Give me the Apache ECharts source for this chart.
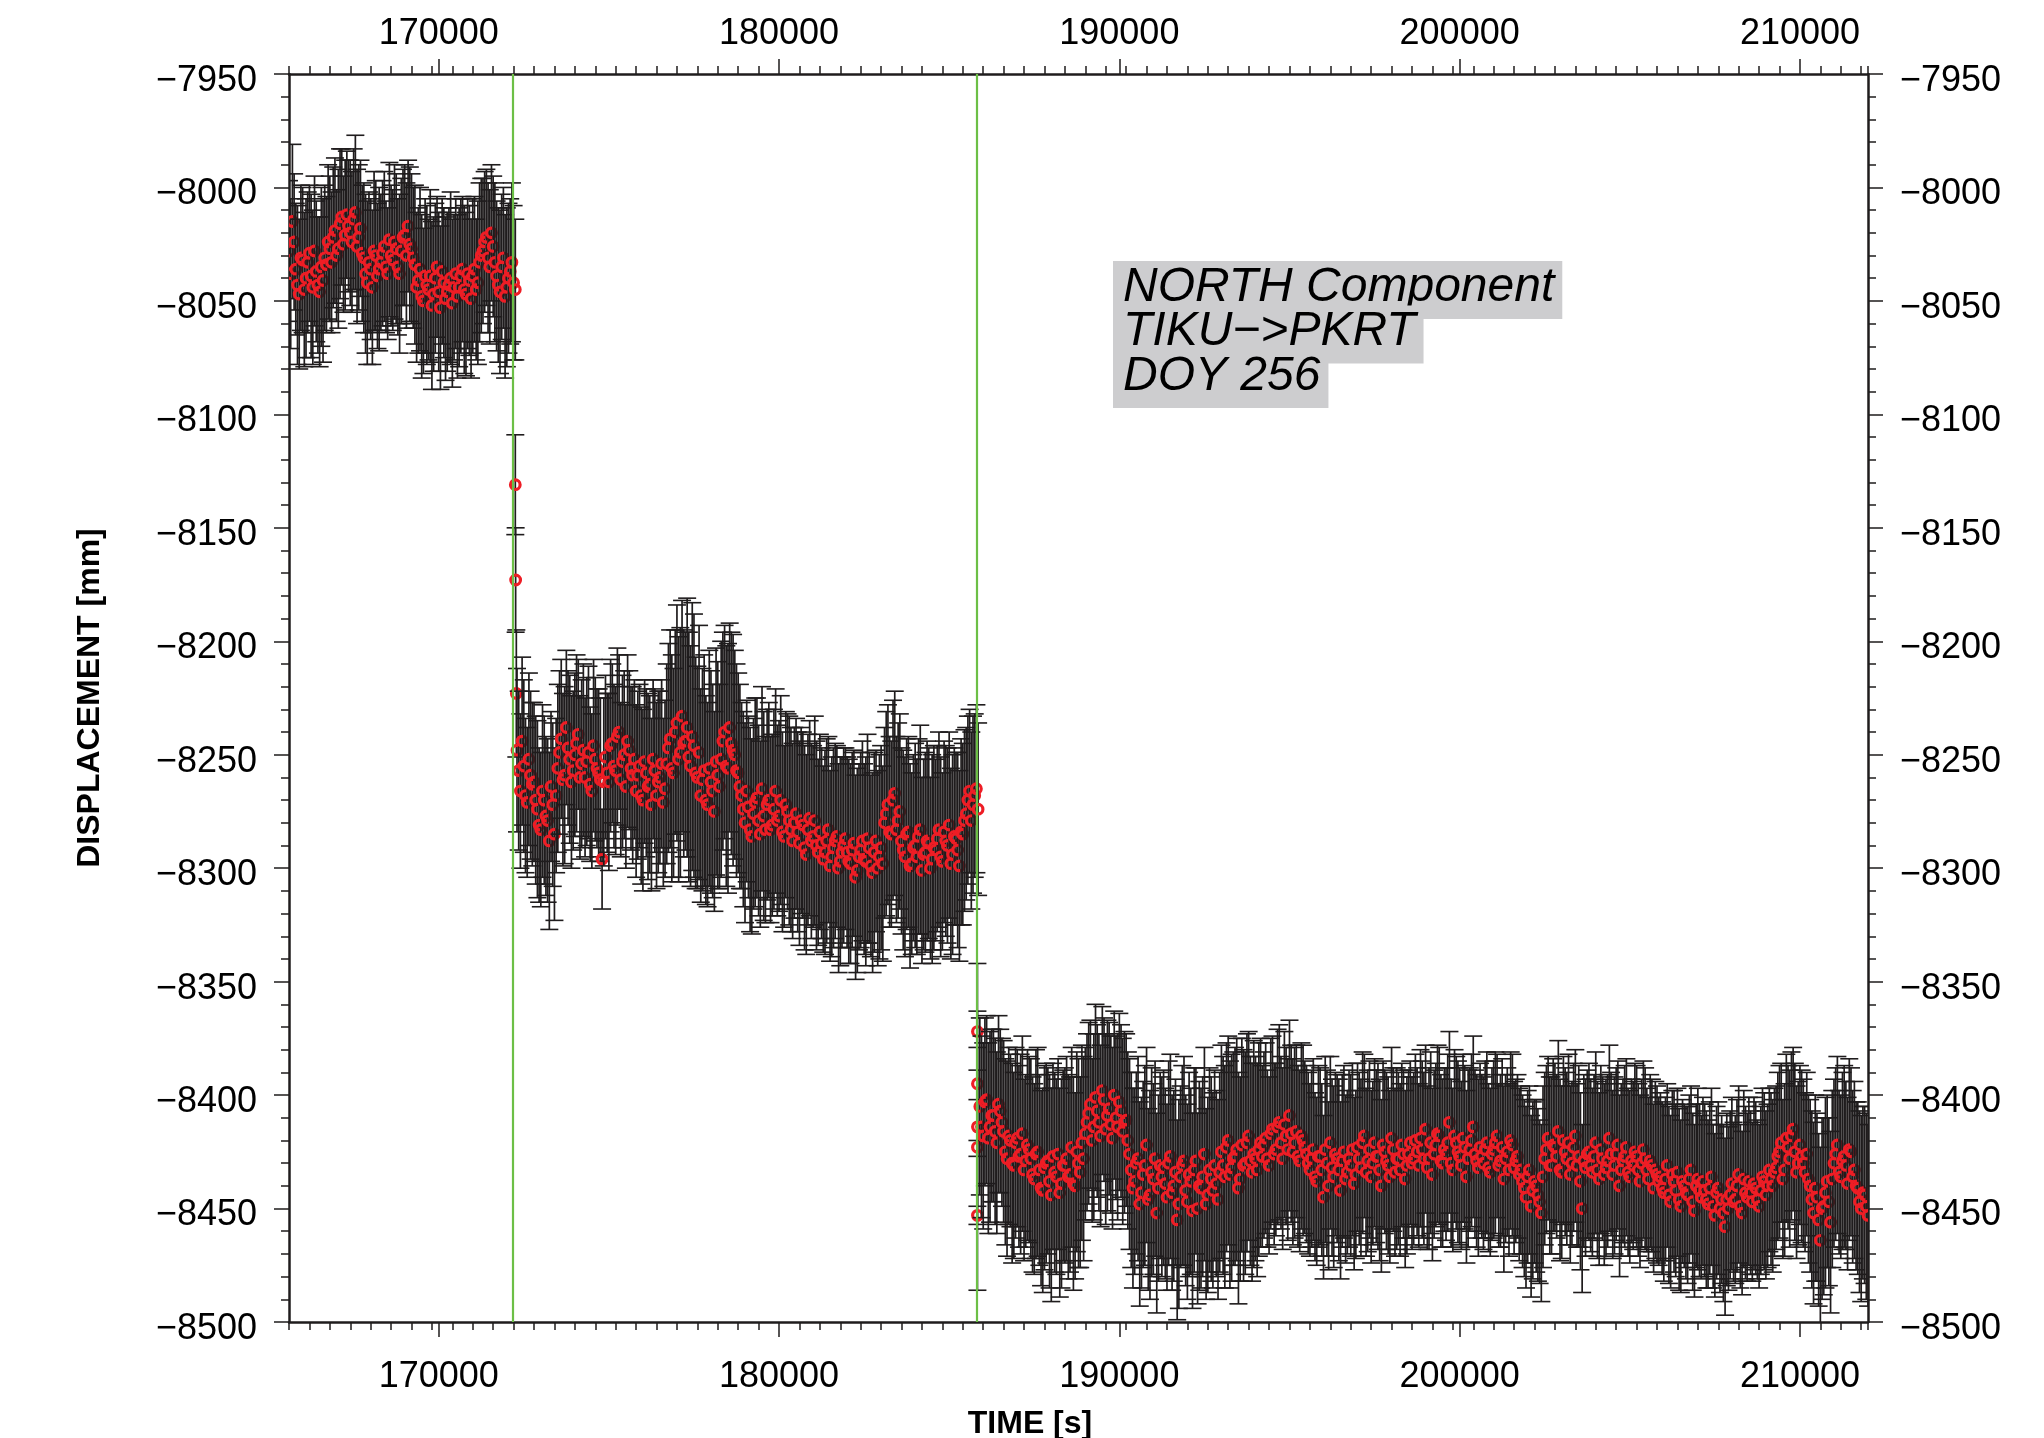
<!DOCTYPE html>
<html>
<head>
<meta charset="utf-8">
<title>NORTH Component TIKU->PKRT DOY 256</title>
<script src="https://cdn.jsdelivr.net/npm/echarts@6/dist/echarts.min.js"></script>
<style>
  html, body { margin: 0; padding: 0; background: #fff; }
  #chart { width: 2044px; height: 1438px; }
</style>
</head>
<body>
<div id="chart"></div>
<script>
// time axis tick labels and the two event lines (s)
const xTickValues = [170000, 180000, 190000, 200000, 210000];
const eventTimes = [172180, 185810];

// 100 s sampling per run; the "B" runs sit 50 s after the "A" runs
const sampleStep = 100;
const seg1Start = 165600;
const seg2Start = 172300;
const seg3Start = 185900;
const runBOffset = 50;

// displacement (mm) and 1-sigma error (mm)
const seg1Values = [
  -8028, -8015, -8036, -8047, -8032, -8040, -8029, -8044, -8037, -8046, -8041,
  -8034, -8027, -8022, -8030, -8016, -8025, -8012, -8020, -8014, -8026, -8018,
  -8031, -8042, -8036, -8028, -8039, -8033, -8026, -8038, -8030, -8024, -8035,
  -8028, -8021, -8017, -8027, -8034, -8041, -8048, -8039, -8045, -8052, -8040,
  -8046, -8037, -8049, -8043, -8051, -8038, -8044, -8036, -8047, -8041, -8039,
  -8045, -8033, -8028, -8022, -8035, -8026, -8039, -8046, -8031, -8044, -8037, -8042
];
const seg1Errors = [
  31, 34, 29, 33, 32, 35, 30, 34, 31, 33, 36, 30, 32, 31, 29, 33, 30, 28, 32, 31,
  34, 30, 33, 36, 31, 35, 32, 30, 33, 29, 31, 34, 30, 32, 31, 29, 33, 35, 32, 36,
  34, 31, 37, 33, 35, 32, 36, 34, 37, 33, 35, 32, 36, 33, 34, 31, 35, 32, 30, 34,
  31, 33, 36, 31, 35, 32, 34
];
const seg1BValues = [
  -8038, -8024, -8043, -8031, -8045, -8033, -8039, -8028, -8043, -8035, -8031,
  -8024, -8033, -8019, -8027, -8013, -8021, -8017, -8024, -8011, -8022, -8029,
  -8038, -8033, -8044, -8030, -8036, -8029, -8035, -8023, -8032, -8027, -8038,
  -8022, -8030, -8025, -8031, -8044, -8036, -8050, -8043, -8039, -8047, -8035,
  -8053, -8042, -8046, -8040, -8044, -8048, -8039, -8045, -8038, -8049, -8036,
  -8042, -8030, -8024, -8031, -8020, -8033, -8043, -8035, -8048, -8040, -8033, -8045
];
const seg1BErrors = [
  33, 30, 35, 32, 34, 31, 36, 33, 30, 35, 32, 34, 31, 32, 35, 30, 33, 29, 31, 34,
  32, 30, 35, 31, 34, 33, 36, 32, 29, 34, 31, 33, 35, 30, 32, 34, 31, 33, 36, 32,
  35, 38, 34, 31, 36, 33, 35, 38, 32, 36, 34, 37, 33, 35, 32, 36, 34, 31, 33, 30,
  35, 34, 32, 36, 33, 35, 31
];

// points inside the first jump
const jump1Times = [172250, 172260, 172280];
const jump1Values = [-8131, -8173, -8223];
const jump1Errors = [22, 23, 28];

const seg2Values = [
  -8248, -8266, -8255, -8271, -8259, -8262, -8274, -8283, -8270, -8279, -8264, -8285,
  -8256, -8243, -8259, -8247, -8262, -8250, -8241, -8254, -8260, -8249, -8266, -8252,
  -8258, -8296, -8251, -8262, -8245, -8257, -8240, -8253, -8264, -8248, -8259, -8266,
  -8255, -8270, -8258, -8263, -8252, -8268, -8260, -8271, -8254, -8243, -8258, -8236,
  -8249, -8245, -8238, -8255, -8246, -8260, -8268, -8257, -8272, -8262, -8275, -8259,
  -8252, -8240, -8256, -8245, -8250, -8258, -8268, -8280, -8273, -8286, -8271, -8279,
  -8265, -8283, -8270, -8281, -8266, -8277, -8284, -8272, -8279, -8288, -8276, -8289,
  -8281, -8294, -8278, -8286, -8290, -8284, -8296, -8288, -8299, -8291, -8286, -8297,
  -8290, -8293, -8298, -8289, -8301, -8292, -8296, -8287, -8299, -8293, -8300, -8291,
  -8280, -8272, -8285, -8267, -8279, -8288, -8295, -8284, -8298, -8290, -8286, -8301,
  -8293, -8289, -8296, -8292, -8283, -8297, -8288, -8281, -8294, -8287, -8299, -8285,
  -8276, -8266, -8272, -8265
];
const seg2Errors = [
  36, 34, 38, 33, 37, 35, 39, 34, 37, 36, 33, 38, 37, 35, 39, 34, 38, 36, 33, 37,
  35, 38, 34, 36, 37, 22, 36, 39, 35, 37, 34, 38, 36, 35, 39, 38, 36, 40, 37, 39,
  35, 41, 38, 37, 44, 48, 46, 52, 55, 50, 57, 53, 58, 49, 47, 51, 45, 49, 44, 50,
  52, 47, 55, 49, 46, 44, 41, 44, 40, 43, 46, 42, 45, 41, 43, 40, 45, 42, 44, 41,
  46, 43, 42, 45, 41, 44, 43, 40, 46, 43, 41, 45, 42, 44, 40, 46, 43, 42, 44, 41,
  45, 43, 42, 46, 40, 44, 43, 45, 42, 44, 41, 45, 43, 41, 44, 42, 40, 45, 43, 41,
  44, 42, 46, 40, 43, 39, 42, 41, 44, 38, 42, 40, 38, 36, 39, 37
];
const seg2BValues = [
  -8257, -8244, -8268, -8252, -8263, -8270, -8281, -8266, -8277, -8288, -8272, -8268,
  -8249, -8261, -8238, -8252, -8257, -8245, -8260, -8248, -8253, -8263, -8246, -8256,
  -8261, -8262, -8258, -8246, -8255, -8242, -8261, -8250, -8244, -8256, -8252, -8259,
  -8268, -8253, -8264, -8272, -8257, -8262, -8254, -8265, -8247, -8256, -8240, -8252,
  -8233, -8244, -8251, -8242, -8258, -8249, -8261, -8270, -8256, -8266, -8253, -8264,
  -8244, -8255, -8238, -8248, -8257, -8264, -8274, -8266, -8283, -8276, -8269, -8285,
  -8277, -8272, -8283, -8274, -8279, -8270, -8286, -8275, -8283, -8280, -8284, -8279,
  -8291, -8283, -8288, -8279, -8293, -8289, -8293, -8283, -8295, -8288, -8300, -8293,
  -8287, -8297, -8292, -8304, -8295, -8288, -8297, -8291, -8302, -8288, -8295, -8298,
  -8276, -8284, -8270, -8283, -8275, -8292, -8285, -8299, -8291, -8295, -8283, -8294,
  -8288, -8300, -8291, -8287, -8295, -8284, -8290, -8298, -8286, -8292, -8284, -8279,
  -8270, -8279, -8268, -8274
];
const seg2BErrors = [
  35, 37, 34, 38, 36, 37, 34, 38, 35, 39, 36, 34, 36, 38, 34, 37, 35, 39, 36, 38,
  37, 34, 38, 35, 36, 37, 35, 38, 36, 39, 34, 37, 38, 36, 35, 37, 39, 36, 41, 38,
  36, 40, 37, 39, 46, 50, 45, 54, 51, 48, 55, 59, 51, 56, 49, 46, 52, 47, 50, 45,
  48, 53, 46, 51, 47, 45, 43, 40, 45, 42, 44, 41, 46, 42, 41, 44, 42, 46, 40, 43,
  45, 42, 44, 41, 45, 42, 43, 46, 41, 42, 45, 41, 44, 43, 46, 42, 40, 45, 43, 45,
  41, 44, 46, 42, 44, 40, 45, 43, 45, 42, 44, 41, 43, 44, 42, 45, 41, 43, 46, 42,
  44, 40, 45, 41, 44, 40, 43, 42, 39, 43, 41, 40, 37, 39, 36, 38
];

// points inside the second jump
const jump2Times = [185830, 185830, 185830, 185830, 185830];
const jump2Values = [-8372, -8395, -8414, -8423, -8453];
const jump2Errors = [30, 32, 35, 34, 33];

const seg3Values = [
  -8405, -8418, -8402, -8414, -8409, -8421, -8407, -8416, -8428, -8420, -8431, -8419,
  -8426, -8433, -8422, -8428, -8437, -8425, -8441, -8432, -8429, -8444, -8434, -8426,
  -8439, -8431, -8436, -8423, -8440, -8430, -8421, -8417, -8408, -8420, -8401, -8412,
  -8398, -8415, -8406, -8419, -8410, -8403, -8416, -8411, -8426, -8441, -8430, -8448,
  -8435, -8422, -8444, -8437, -8452, -8431, -8432, -8445, -8427, -8440, -8455, -8436,
  -8429, -8447, -8438, -8433, -8450, -8441, -8426, -8444, -8437, -8431, -8446, -8425,
  -8436, -8420, -8432, -8427, -8441, -8422, -8430, -8418, -8434, -8428, -8424, -8427,
  -8419, -8431, -8415, -8424, -8412, -8428, -8418, -8409, -8425, -8416, -8429, -8420,
  -8426, -8433, -8424, -8438, -8427, -8445, -8430, -8421, -8436, -8428, -8442, -8425,
  -8434, -8431, -8439, -8423, -8432, -8418, -8429, -8436, -8421, -8427, -8440, -8425,
  -8431, -8419, -8434, -8428, -8422, -8437, -8426, -8430, -8420, -8431, -8424, -8415,
  -8428, -8435, -8422, -8418, -8430, -8426, -8412, -8433, -8421, -8427, -8419, -8436,
  -8424, -8414, -8429, -8423, -8430, -8421, -8434, -8424, -8418, -8429, -8437, -8425,
  -8420, -8432, -8427, -8433, -8441, -8436, -8449, -8438, -8444, -8452, -8428, -8419,
  -8431, -8423, -8416, -8434, -8425, -8421, -8430, -8418, -8427, -8450, -8432, -8425,
  -8434, -8421, -8437, -8428, -8432, -8419, -8435, -8426, -8440, -8429, -8423, -8436,
  -8431, -8427, -8438, -8424, -8433, -8429, -8441, -8435, -8436, -8443, -8431, -8447,
  -8438, -8434, -8449, -8440, -8444, -8433, -8451, -8437, -8445, -8442, -8448, -8436,
  -8453, -8441, -8446, -8458, -8450, -8439, -8446, -8435, -8452, -8443, -8438, -8447,
  -8441, -8449, -8436, -8444, -8433, -8440, -8432, -8425, -8437, -8419, -8428, -8415,
  -8434, -8422, -8430, -8426, -8440, -8452, -8445, -8464, -8449, -8438, -8456, -8430,
  -8422, -8436, -8427, -8439, -8425, -8433, -8441, -8450, -8444, -8453
];
const seg3Errors = [
  39, 41, 37, 42, 38, 40, 36, 40, 43, 38, 41, 39, 44, 40, 42, 44, 42, 46, 43, 45,
  41, 47, 44, 42, 46, 43, 45, 44, 41, 46, 43, 38, 40, 36, 41, 39, 37, 42, 38, 40,
  36, 39, 41, 38, 42, 44, 40, 45, 41, 43, 46, 42, 44, 41, 43, 41, 45, 42, 44, 40,
  46, 43, 41, 45, 42, 44, 47, 43, 45, 42, 44, 47, 49, 46, 50, 48, 51, 47, 49, 46,
  48, 45, 47, 40, 42, 39, 41, 38, 43, 40, 39, 42, 41, 38, 40, 42, 39, 38, 40, 37,
  39, 36, 41, 38, 40, 37, 39, 38, 36, 40, 38, 37, 39, 36, 40, 38, 37, 41, 38, 36,
  39, 40, 37, 38, 36, 39, 37, 38, 38, 36, 39, 37, 40, 38, 36, 39, 37, 38, 40, 36,
  38, 39, 37, 38, 36, 40, 38, 37, 38, 40, 37, 39, 36, 38, 41, 37, 39, 38, 36, 37,
  39, 38, 40, 36, 38, 39, 38, 36, 39, 37, 40, 38, 37, 39, 36, 38, 40, 37, 39, 39,
  37, 40, 38, 36, 39, 41, 37, 38, 40, 36, 39, 38, 37, 40, 38, 39, 36, 38, 37, 39,
  37, 39, 36, 38, 40, 37, 38, 36, 39, 37, 38, 40, 36, 38, 37, 39, 36, 38, 37, 39,
  36, 38, 37, 39, 36, 38, 37, 35, 38, 36, 39, 37, 36, 38, 36, 38, 35, 37, 39, 36,
  38, 35, 37, 36, 38, 40, 37, 41, 39, 38, 40, 37, 39, 36, 40, 38, 37, 39, 38, 41,
  39, 40
];
const seg3BValues = [
  -8414, -8403, -8419, -8409, -8416, -8404, -8412, -8425, -8418, -8430, -8421, -8427,
  -8417, -8429, -8424, -8435, -8426, -8433, -8442, -8430, -8438, -8427, -8436, -8443,
  -8431, -8428, -8435, -8439, -8425, -8434, -8428, -8412, -8404, -8414, -8407, -8418,
  -8402, -8409, -8413, -8400, -8414, -8407, -8412, -8420, -8433, -8438, -8428, -8443,
  -8431, -8446, -8434, -8428, -8441, -8436, -8439, -8430, -8443, -8434, -8448, -8431,
  -8442, -8435, -8451, -8429, -8440, -8436, -8448, -8433, -8442, -8439, -8434, -8431,
  -8423, -8435, -8428, -8424, -8437, -8431, -8421, -8429, -8426, -8433, -8421, -8422,
  -8428, -8417, -8426, -8414, -8421, -8413, -8424, -8417, -8421, -8427, -8418, -8423,
  -8430, -8428, -8436, -8427, -8433, -8424, -8440, -8432, -8426, -8433, -8429, -8437,
  -8428, -8424, -8435, -8428, -8421, -8434, -8424, -8430, -8427, -8433, -8422, -8429,
  -8436, -8424, -8428, -8433, -8426, -8431, -8421, -8428, -8425, -8419, -8428, -8432,
  -8421, -8426, -8417, -8429, -8424, -8421, -8430, -8418, -8425, -8431, -8423, -8428,
  -8420, -8426, -8432, -8427, -8424, -8432, -8426, -8421, -8431, -8423, -8428, -8433,
  -8422, -8429, -8435, -8438, -8445, -8433, -8442, -8440, -8447, -8436, -8424, -8431,
  -8422, -8427, -8433, -8420, -8428, -8435, -8423, -8431, -8438, -8429, -8426, -8431,
  -8427, -8433, -8424, -8435, -8429, -8426, -8431, -8422, -8433, -8427, -8434, -8429,
  -8425, -8433, -8430, -8428, -8437, -8431, -8433, -8438, -8441, -8437, -8444, -8435,
  -8442, -8446, -8438, -8443, -8437, -8447, -8440, -8442, -8438, -8446, -8441, -8449,
  -8443, -8450, -8452, -8446, -8444, -8447, -8440, -8449, -8437, -8445, -8443, -8439,
  -8446, -8442, -8438, -8440, -8437, -8434, -8427, -8421, -8433, -8423, -8418, -8425,
  -8430, -8427, -8434, -8437, -8446, -8441, -8455, -8450, -8443, -8447, -8437, -8426,
  -8434, -8429, -8431, -8424, -8436, -8440, -8447, -8443, -8449
];
const seg3BErrors = [
  40, 37, 42, 38, 41, 39, 37, 41, 39, 44, 42, 40, 43, 38, 41, 43, 46, 42, 45, 44,
  47, 41, 43, 46, 42, 45, 43, 47, 44, 42, 45, 39, 37, 41, 38, 40, 36, 42, 39, 37,
  41, 38, 40, 39, 43, 41, 45, 42, 44, 40, 46, 43, 41, 44, 42, 45, 43, 41, 46, 44,
  42, 45, 43, 41, 46, 44, 42, 45, 43, 41, 44, 48, 46, 50, 47, 49, 45, 51, 48, 46,
  50, 47, 46, 41, 39, 42, 40, 43, 38, 41, 40, 39, 42, 40, 41, 38, 40, 39, 37, 40,
  38, 41, 37, 39, 36, 40, 38, 37, 39, 38, 37, 38, 40, 37, 39, 36, 38, 40, 37, 39,
  38, 36, 40, 38, 37, 39, 36, 38, 37, 39, 38, 36, 40, 37, 39, 38, 36, 39, 37, 38,
  40, 37, 36, 39, 38, 37, 39, 36, 39, 37, 38, 40, 36, 39, 37, 38, 40, 36, 38, 38,
  40, 37, 39, 38, 36, 40, 37, 39, 38, 36, 40, 37, 38, 39, 37, 36, 39, 38, 37, 38,
  36, 39, 37, 40, 38, 36, 39, 37, 38, 40, 37, 36, 39, 38, 37, 40, 36, 38, 39, 37,
  38, 36, 39, 37, 38, 40, 36, 38, 37, 39, 36, 38, 37, 39, 38, 36, 38, 37, 39, 38,
  37, 35, 38, 36, 39, 37, 36, 38, 35, 37, 39, 36, 38, 37, 37, 35, 38, 36, 37, 39,
  36, 38, 35, 37, 39, 41, 38, 40, 42, 37, 39, 38, 36, 39, 37, 40, 38, 37, 40, 38,
  41
];

// [time, value, error] rows in time order
const points = [];
function addSegment(start, values, errors) {
  values.forEach((v, i) => points.push([start + i * sampleStep, v, errors[i]]));
}
function addJump(times, values, errors) {
  values.forEach((v, i) => points.push([times[i], v, errors[i]]));
}
addSegment(seg1Start, seg1Values, seg1Errors);
addSegment(seg1Start + runBOffset, seg1BValues, seg1BErrors);
addJump(jump1Times, jump1Values, jump1Errors);
addSegment(seg2Start, seg2Values, seg2Errors);
addSegment(seg2Start + runBOffset, seg2BValues, seg2BErrors);
addJump(jump2Times, jump2Values, jump2Errors);
addSegment(seg3Start, seg3Values, seg3Errors);
addSegment(seg3Start + runBOffset, seg3BValues, seg3BErrors);
points.sort((a, b) => a[0] - b[0]);

const FONT = "Liberation Sans";
const INK = "#1f1c1d";
const RED = "#ee1d25";

const minus = (v) => String(v).replace("-", "\u2212");

function timeAxis(position, labels, withName) {
  return {
    type: "value",
    position: position,
    min: 165600,
    max: 212000,
    axisLine: { show: true, onZero: false, lineStyle: { color: INK, width: 2.5 } },
    axisTick: {
      show: true, inside: false, length: 15, customValues: xTickValues,
      lineStyle: { color: INK, width: 1.5 }
    },
    axisLabel: {
      show: labels, customValues: xTickValues, fontSize: 36, fontFamily: FONT,
      color: "#000", margin: position === "top" ? 22 : 37,
      formatter: (v) => String(v)
    },
    splitLine: { show: false },
    name: withName ? "TIME [s]" : "",
    nameLocation: "middle",
    nameGap: 86,
    nameTextStyle: {
      fontSize: 32, fontWeight: "bold", fontFamily: FONT, color: "#000",
      padding: [0, 97, 0, 0]
    }
  };
}

// minor ticks every 600 s counted from the left edge
function minorTimeAxis(position) {
  return {
    type: "value",
    position: position,
    min: 165600,
    max: 212000,
    interval: 600,
    axisLine: { show: false },
    axisTick: { show: true, inside: false, length: 8, lineStyle: { color: INK, width: 1.5 } },
    axisLabel: { show: false },
    splitLine: { show: false }
  };
}

function dispAxis(position, withName) {
  return {
    type: "value",
    position: position,
    min: -8500,
    max: -7950,
    interval: 50,
    axisLine: { show: true, onZero: false, lineStyle: { color: INK, width: 2.5 } },
    axisTick: { show: true, inside: false, length: 15, lineStyle: { color: INK, width: 1.5 } },
    minorTick: { show: true, splitNumber: 5, length: 8, lineStyle: { color: INK, width: 1.5 } },
    axisLabel: {
      fontSize: 36, fontFamily: FONT, color: "#000", margin: 32, formatter: minus,
      verticalAlign: "top", lineHeight: 14
    },
    splitLine: { show: false },
    name: withName ? "DISPLACEMENT [mm]" : "",
    nameLocation: "middle",
    nameRotate: 90,
    nameGap: 183,
    nameTextStyle: { fontSize: 32, fontWeight: "bold", fontFamily: FONT, color: "#000" }
  };
}

// error bar with caps, then the hollow red marker, point by point
function renderPoint(params, api) {
  const t = api.value(0);
  const v = api.value(1);
  const e = api.value(2);
  const c = api.coord([t, v]);
  const top = api.coord([t, v + e]);
  const bot = api.coord([t, v - e]);
  const half = 9;
  const bar = { stroke: INK, lineWidth: 1.7 };
  const cap = { stroke: INK, lineWidth: 1.6 };
  return {
    type: "group",
    children: [
      { type: "line", shape: { x1: top[0], y1: top[1], x2: bot[0], y2: bot[1] }, style: bar },
      { type: "line", shape: { x1: top[0] - half, y1: top[1], x2: top[0] + half, y2: top[1] }, style: cap },
      { type: "line", shape: { x1: bot[0] - half, y1: bot[1], x2: bot[0] + half, y2: bot[1] }, style: cap },
      { type: "circle", shape: { cx: c[0], cy: c[1], r: 4.8 }, style: { fill: "none", stroke: RED, lineWidth: 3.2 } }
    ]
  };
}

const boxLines = ["NORTH Component", "TIKU\u2212>PKRT", "DOY 256"];

const chart = echarts.init(document.getElementById("chart"), null, { renderer: "canvas" });
chart.setOption({
  animation: false,
  backgroundColor: "#fff",
  grid: {
    left: 289, right: 176, top: 74, bottom: 116,
    containLabel: false, outerBoundsMode: "none"
  },
  xAxis: [
    timeAxis("bottom", true, true),
    minorTimeAxis("bottom"),
    timeAxis("top", true, false),
    minorTimeAxis("top")
  ],
  yAxis: [dispAxis("left", true), dispAxis("right", false)],
  series: [
    {
      type: "custom",
      xAxisIndex: 0,
      yAxisIndex: 0,
      clip: true,
      encode: { x: 0, y: 1 },
      renderItem: renderPoint,
      data: points,
      z: 2
    },
    {
      type: "line",
      xAxisIndex: 0,
      yAxisIndex: 0,
      data: [],
      z: 3,
      markLine: {
        silent: true,
        symbol: "none",
        label: { show: false },
        lineStyle: { color: "#6cbf46", width: 2.2, type: "solid" },
        data: eventTimes.map((t) => ({ xAxis: t }))
      }
    }
  ],
  graphic: boxLines.map((txt, i) => ({
    type: "text",
    left: 1113,
    top: 261 + i * 44.5,
    z: 10,
    style: {
      text: txt,
      fontSize: 48,
      fontStyle: "italic",
      fontFamily: FONT,
      fill: "#000",
      lineHeight: 45,
      backgroundColor: "#cdcdcf",
      padding: [4, 8, 9, 10]
    }
  }))
});
</script>
</body>
</html>
